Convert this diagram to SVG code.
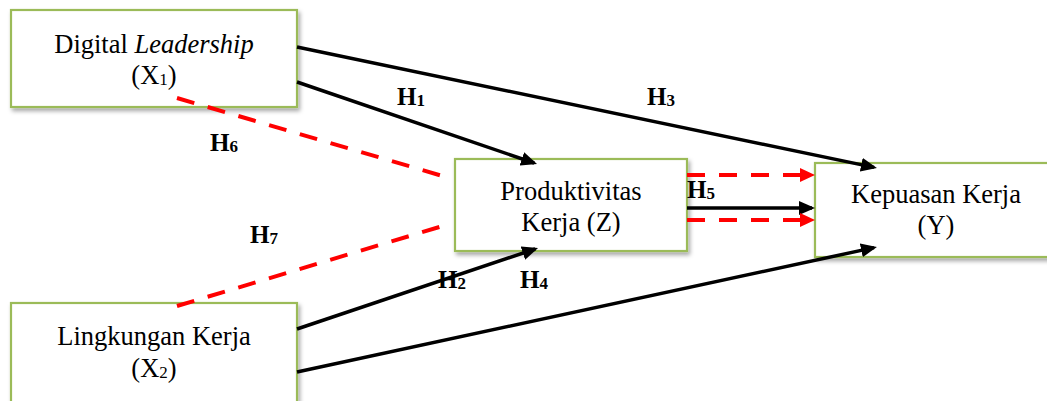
<svg xmlns="http://www.w3.org/2000/svg" width="1047" height="401" viewBox="0 0 1047 401">
<style>
.box{fill:#fff;stroke:#9BBB59;stroke-width:2.2;filter:url(#sh)}
.t{font-family:"Liberation Serif","Times New Roman",serif;font-size:26.5px;fill:#000;text-anchor:middle}
.h{font-family:"Liberation Serif","Times New Roman",serif;font-size:25px;font-weight:bold;fill:#000}
.blk{stroke:#000;stroke-width:3.5;fill:none;marker-end:url(#ab)}
.red{stroke:#FF0000;stroke-width:4;fill:none;stroke-dasharray:18 14}
.redA{marker-end:url(#ar)}
</style>
<defs>
<filter id="sh" x="-10%" y="-10%" width="130%" height="140%">
<feDropShadow dx="2" dy="3" stdDeviation="2" flood-color="#000" flood-opacity="0.35"/>
</filter>
<marker id="ab" viewBox="0 0 16 14" refX="13" refY="7" markerWidth="16" markerHeight="14" markerUnits="userSpaceOnUse" orient="auto">
<path d="M0,0 L16,7 L0,14 z" fill="#000"/>
</marker>
<marker id="ar" viewBox="0 0 15 14" refX="12" refY="7" markerWidth="15" markerHeight="14" markerUnits="userSpaceOnUse" orient="auto">
<path d="M0,0 L15,7 L0,14 z" fill="#FF0000"/>
</marker>
</defs>
<g id="nodeX1">
<rect class="box" x="11" y="10" width="286" height="97"/>
<text class="t" x="154" y="53">Digital <tspan font-style="italic">Leadership</tspan></text>
<text class="t" x="154" y="84">(X<tspan font-size="17" dy="1">1</tspan><tspan dy="-1">)</tspan></text>
</g>
<g id="nodeX2">
<rect class="box" x="11" y="303" width="286" height="102"/>
<text class="t" x="154" y="345">Lingkungan Kerja</text>
<text class="t" x="154" y="377">(X<tspan font-size="17" dy="1">2</tspan><tspan dy="-1">)</tspan></text>
</g>
<g id="nodeZ">
<rect class="box" x="455" y="159" width="232" height="92"/>
<text class="t" x="571" y="200">Produktivitas</text>
<text class="t" x="571" y="231">Kerja (Z)</text>
</g>
<g id="nodeY">
<rect class="box" x="815" y="163" width="242" height="94"/>
<text class="t" x="936" y="203">Kepuasan Kerja</text>
<text class="t" x="936" y="234">(Y)</text>
</g>
<g id="connectors">
<line class="blk" x1="297" y1="47" x2="874" y2="167.4"/>
<line class="blk" x1="297" y1="82" x2="534.2" y2="163"/>
<line class="blk" x1="297" y1="329" x2="535.2" y2="249"/>
<line class="blk" x1="297" y1="372" x2="874" y2="247.6"/>
<line class="blk" x1="687" y1="208" x2="812" y2="208"/>
<line class="red redA" x1="687" y1="175" x2="812" y2="175"/>
<line class="red redA" x1="687" y1="220" x2="812" y2="220"/>
<line class="red" x1="177" y1="98" x2="446" y2="177"/>
<line class="red" x1="177" y1="306" x2="446" y2="225"/>
</g>
<g id="labels">
<text class="h" x="397" y="105">H<tspan font-size="17" dy="1">1</tspan></text>
<text class="h" x="647" y="105">H<tspan font-size="17" dy="1">3</tspan></text>
<text class="h" x="210" y="151">H<tspan font-size="17" dy="1">6</tspan></text>
<text class="h" x="250" y="243">H<tspan font-size="17" dy="1">7</tspan></text>
<text class="h" x="438" y="288">H<tspan font-size="17" dy="1">2</tspan></text>
<text class="h" x="520" y="288">H<tspan font-size="17" dy="1">4</tspan></text>
<text class="h" x="687" y="198">H<tspan font-size="17" dy="1">5</tspan></text>
</g>
</svg>
